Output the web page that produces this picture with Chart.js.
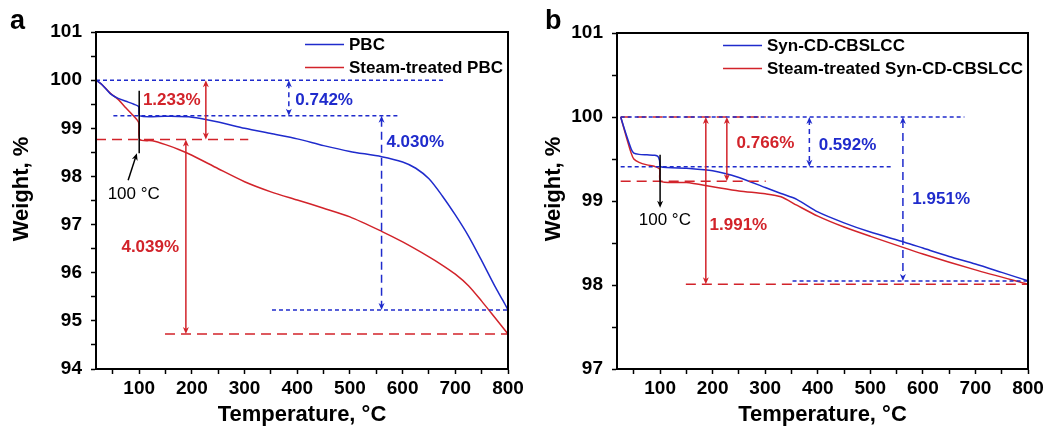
<!DOCTYPE html>
<html><head><meta charset="utf-8">
<script src="https://cdn.jsdelivr.net/npm/chart.js@4/dist/chart.umd.min.js"></script>
<style>
html,body{margin:0;padding:0;background:#fff;}
body{width:1056px;height:432px;overflow:hidden;position:relative;font-family:"Liberation Sans",Arial,sans-serif;}
.panel{position:absolute;top:0;width:528px;height:432px;}
.plabel{position:absolute;font-weight:bold;font-size:27px;line-height:27px;color:#000;}
</style></head>
<body>
<div class="panel" style="left:0"><canvas id="ca" width="528" height="432"></canvas></div>
<div class="panel" style="left:528px"><canvas id="cb" width="528" height="432"></canvas></div>
<div class="plabel" style="left:10px;top:7px">a</div>
<div class="plabel" style="left:545px;top:7px">b</div>
<script>
// ---------------- DATA ----------------
// Panel a
const tempPBC = [18, 30, 45, 60, 75, 90, 99, 101, 150, 200, 250, 300, 350, 400, 450, 500, 560, 600, 625, 650, 675, 700, 725, 750, 775, 790, 800];
const weightPBC = [100, 99.9, 99.72, 99.62, 99.56, 99.5, 99.45, 99.258, 99.25, 99.23, 99.13, 99.0, 98.89, 98.78, 98.64, 98.52, 98.41, 98.3, 98.17, 97.95, 97.6, 97.2, 96.76, 96.25, 95.72, 95.43, 95.228];
const tempSteamPBC = [18, 30, 45, 60, 75, 90, 99, 101, 125, 150, 175, 200, 250, 300, 350, 400, 450, 500, 560, 600, 650, 675, 700, 725, 750, 775, 800];
const weightSteamPBC = [100, 99.9, 99.73, 99.6, 99.42, 99.25, 99.12, 98.767, 98.74, 98.66, 98.56, 98.44, 98.16, 97.89, 97.68, 97.51, 97.34, 97.16, 96.86, 96.64, 96.33, 96.16, 95.97, 95.73, 95.41, 95.07, 94.728];
// Panel b
const tempSyn = [25, 35, 45, 50, 60, 75, 90, 96, 99, 101, 150, 200, 250, 300, 330, 360, 400, 450, 500, 565, 600, 650, 700, 750, 800];
const weightSyn = [100, 99.8, 99.62, 99.57, 99.555, 99.55, 99.545, 99.53, 99.48, 99.408, 99.39, 99.36, 99.28, 99.16, 99.09, 99.02, 98.87, 98.74, 98.63, 98.51, 98.44, 98.34, 98.25, 98.15, 98.049];
const tempSteamSyn = [25, 35, 45, 50, 60, 75, 90, 99, 101, 150, 200, 250, 300, 330, 360, 400, 450, 500, 600, 700, 800];
const weightSteamSyn = [100, 99.78, 99.57, 99.5, 99.46, 99.43, 99.41, 99.38, 99.234, 99.22, 99.17, 99.12, 99.085, 99.05, 98.95, 98.82, 98.69, 98.58, 98.37, 98.18, 98.009];

// Series labels
const seriesA = ['PBC', 'Steam-treated PBC'];
const seriesB = ['Syn-CD-CBSLCC', 'Steam-treated Syn-CD-CBSLCC'];

// Tick values
const xTickValues = [50, 100, 150, 200, 250, 300, 350, 400, 450, 500, 550, 600, 650, 700, 750, 800];
const yTickValuesA = [94, 94.5, 95, 95.5, 96, 96.5, 97, 97.5, 98, 98.5, 99, 99.5, 100, 100.5, 101];
const yTickValuesB = [97, 97.5, 98, 98.5, 99, 99.5, 100, 100.5, 101];

// Mass-loss values (%)
const lossBlueA = [0.742, 4.030];   // below 100 °C, 100 °C -> 800 °C
const lossRedA = [1.233, 4.039];
const lossBlueB = [0.592, 1.951];   // below 100 °C, total
const lossRedB = [0.766, 1.991];

// ---------------- STYLE ----------------
const BLUE = '#1f2bcc';
const RED = '#d2232a';
const FONT = '"Liberation Sans", Arial, sans-serif';
Chart.defaults.font.family = FONT;
Chart.defaults.color = '#000';

const pts = (xs, ys) => xs.map((x, i) => ({x, y: ys[i]}));
const fmt = v => v.toFixed(3) + '%';

// reference levels derived from losses
const aB1 = 100 - lossBlueA[0], aB2 = aB1 - lossBlueA[1];
const aR1 = 100 - lossRedA[0], aR2 = aR1 - lossRedA[1];
const bB1 = 100 - lossBlueB[0], bB2 = 100 - lossBlueB[1];
const bR1 = 100 - lossRedB[0], bR2 = 100 - lossRedB[1];

const DOT = [4, 3], DASH = [10, 6], ADASH = [8, 5];

const annoA = {
  hlines: [
    {y: 100, x1: 18, x2: 677, c: BLUE, d: DOT},
    {y: aB1, x1: 51, x2: 592, c: BLUE, d: DOT},
    {y: aB2, x1: 352, x2: 800, c: BLUE, d: DOT},
    {y: aR1, x1: 18, x2: 307, c: RED, d: DASH},
    {y: aR2, x1: 149, x2: 800, c: RED, d: DASH}
  ],
  arrows: [
    {x: 226.5, y1: 100, y2: aR1, c: RED, d: null},
    {x: 384, y1: 100, y2: aB1, c: BLUE, d: [5, 4]},
    {x: 560, y1: aB1, y2: aB2, c: BLUE, d: ADASH},
    {x: 188.6, y1: aR1, y2: aR2, c: RED, d: null}
  ],
  texts: [
    {t: fmt(lossRedA[0]), x: 161.7, y: 99.584, c: RED, b: true},
    {t: fmt(lossBlueA[0]), x: 451, y: 99.584, c: BLUE, b: true},
    {t: fmt(lossBlueA[1]), x: 624, y: 98.71, c: BLUE, b: true},
    {t: fmt(lossRedA[1]), x: 121, y: 96.53, c: RED, b: true},
    {t: '100 \u00B0C', x: 89.6, y: 97.63, c: '#000', b: false}
  ],
  black: [
    {x1: 100, y1: 99.78, x2: 100, y2: 98.48, head: false},
    {x1: 79, y1: 97.92, x2: 95.6, y2: 98.48, head: true}
  ],
  legend: seriesA, legendColors: [BLUE, RED]
};
const annoB = {
  hlines: [
    {y: 100, x1: 25, x2: 301, c: RED, d: DASH},
    {y: 100, x1: 25, x2: 679, c: BLUE, d: DOT},
    {y: bB1, x1: 25, x2: 543, c: BLUE, d: DOT},
    {y: bR1, x1: 25, x2: 301, c: RED, d: DASH},
    {y: bB2, x1: 352, x2: 800, c: BLUE, d: DOT},
    {y: bR2, x1: 149, x2: 800, c: RED, d: DASH}
  ],
  arrows: [
    {x: 187, y1: 100, y2: bR2, c: RED, d: null},
    {x: 227, y1: 100, y2: bR1, c: RED, d: null},
    {x: 384, y1: 100, y2: bB1, c: BLUE, d: [5, 4]},
    {x: 562, y1: 100, y2: bB2, c: BLUE, d: ADASH}
  ],
  texts: [
    {t: fmt(lossRedB[0]), x: 300.4, y: 99.687, c: RED, b: true},
    {t: fmt(lossBlueB[0]), x: 456.6, y: 99.663, c: BLUE, b: true},
    {t: fmt(lossBlueB[1]), x: 634.8, y: 99.02, c: BLUE, b: true},
    {t: fmt(lossRedB[1]), x: 249, y: 98.71, c: RED, b: true},
    {t: '100 \u00B0C', x: 109, y: 98.77, c: '#000', b: false}
  ],
  black: [
    {x1: 100, y1: 99.55, x2: 100, y2: 98.92, head: true}
  ],
  legend: seriesB, legendColors: [BLUE, RED]
};

function head(ctx, x, y, ang, c) {
  const L = 7, W = 3;
  ctx.save();
  ctx.translate(x, y); ctx.rotate(ang);
  ctx.fillStyle = c;
  ctx.beginPath(); ctx.moveTo(0, 0); ctx.lineTo(-L, -W); ctx.lineTo(-L + 2, 0); ctx.lineTo(-L, W); ctx.closePath(); ctx.fill();
  ctx.restore();
}

const annoPlugin = {
  id: 'anno',
  afterDatasetsDraw(chart, args, o) {
    const ctx = chart.ctx, xs = chart.scales.x, ys = chart.scales.y, A = chart.chartArea;
    const X = v => xs.getPixelForValue(v), Y = v => ys.getPixelForValue(v);
    ctx.save();
    ctx.lineWidth = 1.5;
    for (const h of o.hlines) {
      ctx.strokeStyle = h.c; ctx.setLineDash(h.d || []);
      ctx.beginPath(); ctx.moveTo(X(h.x1), Y(h.y)); ctx.lineTo(X(h.x2), Y(h.y)); ctx.stroke();
    }
    for (const a of o.arrows) {
      const x = X(a.x), p1 = Y(a.y1), p2 = Y(a.y2);
      ctx.strokeStyle = a.c; ctx.setLineDash(a.d || []);
      ctx.beginPath(); ctx.moveTo(x, p1 + 3); ctx.lineTo(x, p2 - 3); ctx.stroke();
      ctx.setLineDash([]);
      head(ctx, x, p1, -Math.PI / 2, a.c);
      head(ctx, x, p2, Math.PI / 2, a.c);
    }
    ctx.setLineDash([]);
    for (const b of o.black) {
      const x1 = X(b.x1), y1 = Y(b.y1), x2 = X(b.x2), y2 = Y(b.y2);
      ctx.strokeStyle = '#000'; ctx.lineWidth = 1.5;
      const ang = Math.atan2(y2 - y1, x2 - x1);
      const e = b.head ? 4 : 0;
      ctx.beginPath(); ctx.moveTo(x1, y1); ctx.lineTo(x2 - e * Math.cos(ang), y2 - e * Math.sin(ang)); ctx.stroke();
      if (b.head) head(ctx, x2, y2, ang, '#000');
    }
    ctx.textAlign = 'center'; ctx.textBaseline = 'middle';
    for (const t of o.texts) {
      ctx.font = (t.b ? 'bold ' : '') + '17px ' + FONT;
      ctx.fillStyle = t.c;
      ctx.fillText(t.t, X(t.x), Y(t.y));
    }
    // frame
    ctx.strokeStyle = '#000'; ctx.lineWidth = 2;
    ctx.strokeRect(A.left, A.top, A.right - A.left, A.bottom - A.top);
    // legend
    ctx.font = 'bold 17px ' + FONT;
    const maxW = Math.max(...o.legend.map(l => ctx.measureText(l).width));
    const tx = A.right - 5 - maxW;
    ctx.textAlign = 'left';
    o.legend.forEach((l, i) => {
      const y = A.top + 12.5 + i * 23;
      ctx.strokeStyle = o.legendColors[i]; ctx.lineWidth = 1.5;
      ctx.beginPath(); ctx.moveTo(tx - 44, y); ctx.lineTo(tx - 5, y); ctx.stroke();
      ctx.fillStyle = '#000';
      ctx.fillText(l, tx, y + 1);
    });
    // y title
    ctx.save();
    ctx.font = 'bold 22px ' + FONT;
    ctx.fillStyle = '#000'; ctx.textAlign = 'center'; ctx.textBaseline = 'middle';
    ctx.translate(o.yTitleX, o.yTitleY); ctx.rotate(-Math.PI / 2);
    ctx.fillText('Weight, %', 0, 0);
    ctx.restore();
    ctx.restore();
  }
};

function makeChart(id, series, dataSets, yTicks, ymin, ymax, anno, pad, yWidth) {
  return new Chart(document.getElementById(id), {
    type: 'line',
    data: {
      datasets: dataSets.map((d, i) => ({
        label: series[i], data: d, borderColor: [BLUE, RED][i], borderWidth: 1.5,
        pointRadius: 0, tension: 0.25, fill: false
      }))
    },
    options: {
      responsive: false, animation: false, devicePixelRatio: 1,
      layout: {padding: pad},
      plugins: {legend: {display: false}, tooltip: {enabled: false}, anno: anno},
      scales: {
        x: {
          type: 'linear', min: 18, max: 800,
          afterBuildTicks: s => { s.ticks = xTickValues.map(v => ({value: v})); },
          afterFit: s => { s.height = 63; },
          ticks: {autoSkip: false, maxRotation: 0, padding: 3, color: '#000',
            font: {size: 19, weight: 'bold'}, callback: v => (v % 100 === 0 ? String(v) : '')},
          grid: {drawOnChartArea: false, drawTicks: true, tickLength: 5, color: '#000', tickColor: '#000', tickWidth: 1.5},
          border: {display: true, color: '#000', width: 2},
          title: {display: true, text: 'Temperature, \u00B0C', font: {size: 22, weight: 'bold'}, color: '#000', padding: {top: 0, bottom: 4}}
        },
        y: {
          type: 'linear', min: ymin, max: ymax,
          afterBuildTicks: s => { s.ticks = yTicks.map(v => ({value: v})); },
          afterFit: s => { s.width = yWidth; },
          ticks: {autoSkip: false, padding: 9, color: '#000',
            font: {size: 19, weight: 'bold'}, callback: v => (Number.isInteger(v) ? String(v) : '')},
          grid: {drawOnChartArea: false, drawTicks: true, tickLength: 5, color: '#000', tickColor: '#000', tickWidth: 1.5},
          border: {display: true, color: '#000', width: 2},
          title: {display: false}
        }
      }
    },
    plugins: [annoPlugin]
  });
}

makeChart('ca', seriesA, [pts(tempPBC, weightPBC), pts(tempSteamPBC, weightSteamPBC)], yTickValuesA, 94, 101,
  Object.assign(annoA, {yTitleX: 22, yTitleY: 189}), {left: 0, top: 32, right: 20, bottom: 0}, 96);
makeChart('cb', seriesB, [pts(tempSyn, weightSyn), pts(tempSteamSyn, weightSteamSyn)], yTickValuesB, 97, 101,
  Object.assign(annoB, {yTitleX: 26, yTitleY: 189}), {left: 0, top: 33, right: 28, bottom: 0}, 89);
</script>
</body></html>
